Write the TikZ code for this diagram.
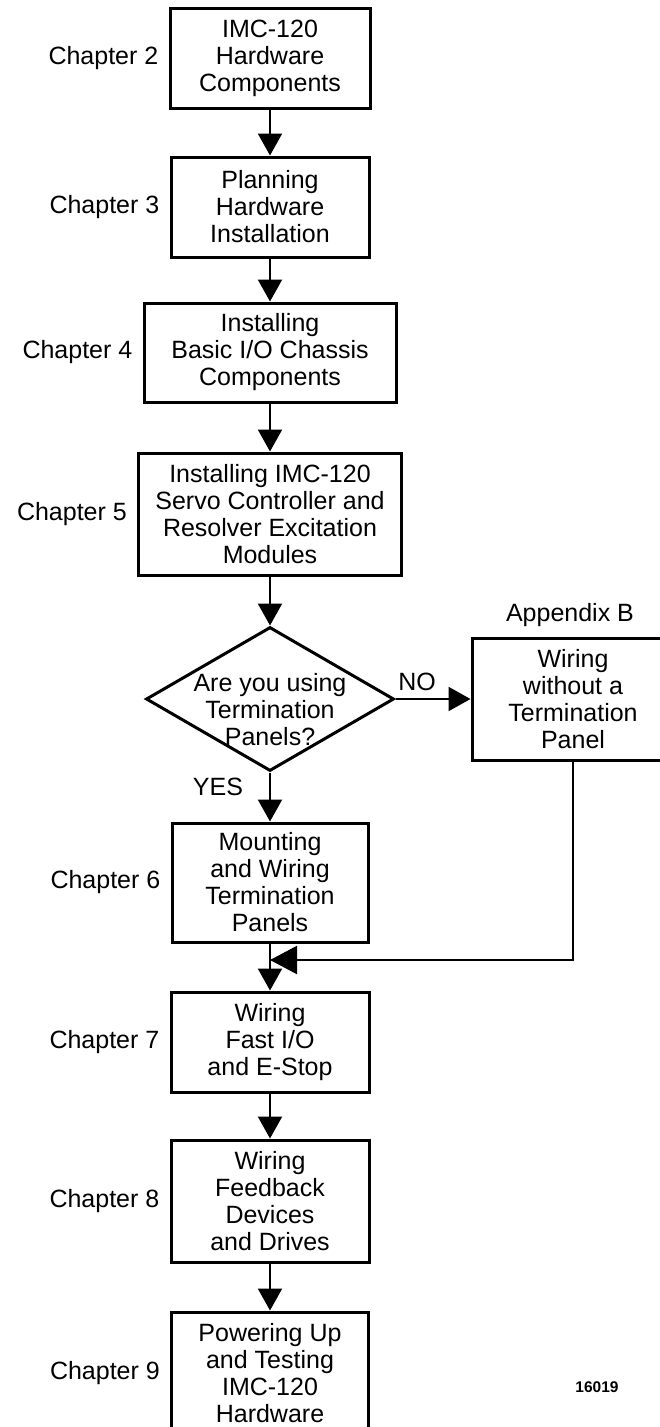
\documentclass[tikz,border=0pt]{standalone}
\usepackage{fontspec}
\setmainfont{Liberation Sans}
\usetikzlibrary{arrows.meta,shapes.geometric}
\tikzset{
  txt/.style={font=\fontsize{25}{27}\selectfont, align=center, inner sep=0pt},
  stepbox/.style={txt, draw, line width=3pt, rectangle},
  conn/.style={line width=2.2pt, -{Triangle[length=22pt,width=24pt]}},
  bigconn/.style={line width=2.2pt, -{Triangle[length=27pt,width=28pt]}},
  chap/.style={txt, anchor=east},
}
\begin{document}
\begin{tikzpicture}[x=1pt,y=-1pt]
\useasboundingbox (0,0) rectangle (659,1427);
\node[stepbox, minimum width=200pt, minimum height=100pt] (b1) at (270,58) {IMC-120\\Hardware\\Components};
\node[stepbox, minimum width=198pt, minimum height=100pt] (b2) at (270,207) {Planning\\Hardware\\Installation};
\node[stepbox, minimum width=252pt, minimum height=99pt] (b3) at (270,352.5) {Installing\\Basic I/O Chassis\\Components};
\node[stepbox, minimum width=263pt, minimum height=122pt] (b4) at (270,514) {Installing IMC-120\\Servo Controller and\\Resolver Excitation\\Modules};
\node[draw, diamond, line width=3pt, minimum width=248pt, minimum height=144pt, inner sep=0pt] (dec) at (270,699) {};
\node[txt] (dectext) at (270,710) {Are you using\\Termination\\Panels?};
\node[stepbox, minimum width=202pt, minimum height=122pt] (bB) at (573,699) {Wiring\\without a\\Termination\\Panel};
\node[stepbox, minimum width=196pt, minimum height=119pt] (b6) at (270,882.5) {Mounting\\and Wiring\\Termination\\Panels};
\node[stepbox, minimum width=198pt, minimum height=100pt] (b7) at (270,1042) {Wiring\\Fast I/O\\and E-Stop};
\node[stepbox, minimum width=198pt, minimum height=122pt] (b8) at (270,1201) {Wiring\\Feedback\\Devices\\and Drives};
\node[stepbox, minimum width=197pt, minimum height=122pt] (b9) at (270,1373) {Powering Up\\and Testing\\IMC-120\\Hardware};

\node[chap] (c2) at ([xshift=-10pt]b1.west) {Chapter 2};
\node[chap] (c3) at ([xshift=-10pt]b2.west) {Chapter 3};
\node[chap] (c4) at ([xshift=-10pt]b3.west) {Chapter 4};
\node[chap] (c5) at ([xshift=-10pt]b4.west) {Chapter 5};
\node[chap] (c6) at ([xshift=-10pt]b6.west) {Chapter 6};
\node[chap] (c7) at ([xshift=-10pt]b7.west) {Chapter 7};
\node[chap] (c8) at ([xshift=-10pt]b8.west) {Chapter 8};
\node[chap] (c9) at ([xshift=-10pt]b9.west) {Chapter 9};
\node[txt] (appB) at (570,615) {Appendix B};
\node[txt] (yes) at (218,787) {YES};
\node[txt] (no) at (417,682) {NO};
\node[font=\fontsize{15.5}{17}\selectfont\bfseries, inner sep=0pt] (fig) at (597,1387) {16019};

\coordinate (m) at (270,960);
\draw[conn] (b1.south) -- (b2.north);
\draw[conn] (b2.south) -- (b3.north);
\draw[conn] (b3.south) -- (b4.north);
\draw[conn] (b4.south) -- (dec.north);
\draw[conn] (dec.east) -- (bB.west);
\draw[conn] (dec.south) -- (b6.north);
\draw[bigconn] (bB.south) |- (m);
\draw[conn] (b6.south) -- (b7.north);
\draw[conn] (b7.south) -- (b8.north);
\draw[conn] (b8.south) -- (b9.north);
\end{tikzpicture}
\end{document}
